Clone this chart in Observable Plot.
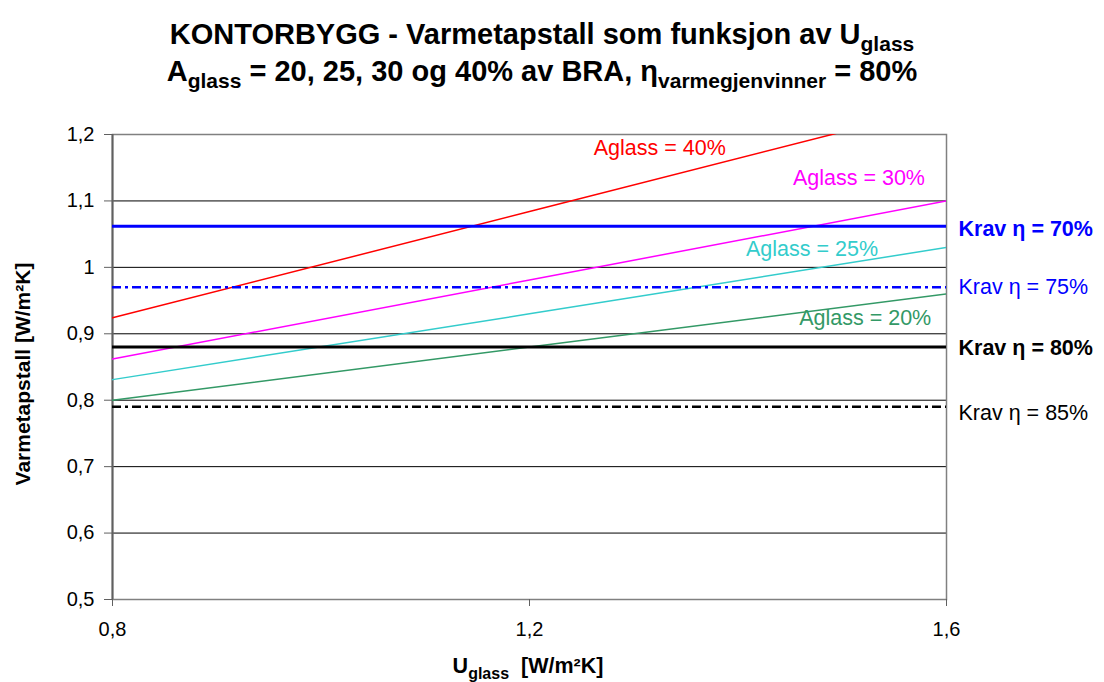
<!DOCTYPE html>
<html>
<head>
<meta charset="utf-8">
<script src="https://cdn.jsdelivr.net/npm/d3@7"></script>
<script src="https://cdn.jsdelivr.net/npm/@observablehq/plot@0.6"></script>
<style>
  html, body { margin: 0; padding: 0; background: #fff; }
  body { width: 1104px; height: 682px; position: relative; overflow: hidden; font-family: "Liberation Sans", Arial, sans-serif; }
  #title { position: absolute; left: 0; top: 0; width: 1084px; height: 100px; text-align: center; font-weight: bold; font-size: 29px; line-height: 37px; padding-top: 16px; box-sizing: border-box; color: #000; }
  #title sub { font-size: 21px; vertical-align: -7px; line-height: 0; }
  #chart { position: absolute; left: 0; top: 100px; }
  #xlabel { position: absolute; left: 0; top: 654px; width: 1056px; text-align: center; font-weight: bold; font-size: 21.5px; line-height: 24px; color: #000; }
  #xlabel sub { font-size: 16px; vertical-align: -6px; line-height: 0; }
</style>
</head>
<body>
<div id="title">KONTORBYGG - Varmetapstall som funksjon av U<sub>glass</sub><br>A<sub>glass</sub> = 20, 25, 30 og 40% av BRA, η<sub>varmegjenvinner</sub> = 80%</div>
<div id="chart"></div>
<div id="xlabel">U<sub>glass</sub>&nbsp; [W/m²K]</div>
<script>
// ---- data ----
const uglass = [0.8, 1.2, 1.6];
const aglass40 = [0.924, 1.084, 1.244];
const aglass30 = [0.862, 0.981, 1.100];
const aglass25 = [0.831, 0.930, 1.030];
const aglass20 = [0.800, 0.880, 0.960];
const seriesNames = ["Aglass = 40%", "Aglass = 30%", "Aglass = 25%", "Aglass = 20%"];
const seriesColors = ["#ff0000", "#ff00ff", "#33cccc", "#339966"];
const seriesLabelX = [1.325, 1.516, 1.471, 1.522];
const seriesLabelY = [1.179, 1.135, 1.028, 0.924];

const kravNames = ["Krav η = 70%", "Krav η = 75%", "Krav η = 80%", "Krav η = 85%"];
const kravValues = [1.062, 0.970, 0.880, 0.790];
const kravLabelY = [1.058, 0.970, 0.878, 0.781];
const kravColors = ["#0000ff", "#0000ff", "#000000", "#000000"];
const kravBold = [true, false, true, false];
const kravDashed = [false, true, false, true];

const yTicks = [0.5, 0.6, 0.7, 0.8, 0.9, 1.0, 1.1, 1.2];
const xTicks = [0.8, 1.2, 1.6];
const gridY = [0.6, 0.7, 0.8, 0.9, 1.0, 1.1];

// ---- build tables ----
const allSeries = [aglass40, aglass30, aglass25, aglass20];
const lineData = [];
allSeries.forEach((vals, i) => vals.forEach((v, j) => lineData.push({u: uglass[j], v, s: seriesNames[i], c: seriesColors[i]})));
const seriesLabels = seriesNames.map((name, i) => ({name, x: seriesLabelX[i], y: seriesLabelY[i], c: seriesColors[i]}));
const krav = kravNames.map((name, i) => ({name, v: kravValues[i], ly: kravLabelY[i], c: kravColors[i], bold: kravBold[i], dashed: kravDashed[i]}));

const fmt = d => String(+d.toFixed(1)).replace(".", ",");

const chart = Plot.plot({
  width: 1104,
  height: 545,
  marginLeft: 112,
  marginRight: 158,
  marginTop: 34,
  marginBottom: 46,
  style: {fontFamily: "'Liberation Sans', Arial, sans-serif", fontSize: "20px", color: "#000", background: "#fff"},
  x: {domain: [0.8, 1.6]},
  y: {domain: [0.5, 1.2]},
  marks: [
    Plot.ruleY(gridY, {stroke: "#000", strokeWidth: 1}),
    Plot.frame({stroke: "#808080", strokeWidth: 1.5}),
    Plot.ruleX([0.8], {stroke: "#606060", strokeWidth: 2}),
    Plot.axisY({ticks: yTicks, tickFormat: fmt, tickSize: 8, tickPadding: 10, stroke: "#606060", label: null, fontSize: 20}),
    Plot.axisX({ticks: xTicks, tickFormat: fmt, tickSize: 7, tickPadding: 15, stroke: "#606060", label: null, fontSize: 20}),
    Plot.text(["Varmetapstall [W/m²K]"], {frameAnchor: "left", rotate: -90, dx: -89, dy: 7, textAnchor: "middle", fontWeight: "bold", fontSize: 21, fill: "#000"}),
    Plot.line(lineData, {x: "u", y: "v", z: "s", stroke: "c", strokeWidth: 1.5, clip: true}),
    Plot.ruleY(krav.filter(d => !d.dashed), {y: "v", stroke: "c", strokeWidth: 3}),
    Plot.ruleY(krav.filter(d => d.dashed), {y: "v", stroke: "c", strokeWidth: 2.5, strokeDasharray: "9,4,3,4"}),
    Plot.text(seriesLabels, {x: "x", y: "y", text: "name", fill: "c", fontSize: 21.5}),
    Plot.text(krav.filter(d => d.bold), {x: () => 1.6, y: "ly", text: "name", fill: "c", fontSize: 21.5, fontWeight: "bold", textAnchor: "start", dx: 12}),
    Plot.text(krav.filter(d => !d.bold), {x: () => 1.6, y: "ly", text: "name", fill: "c", fontSize: 21.5, textAnchor: "start", dx: 12})
  ]
});
document.getElementById("chart").appendChild(chart);
</script>
</body>
</html>
